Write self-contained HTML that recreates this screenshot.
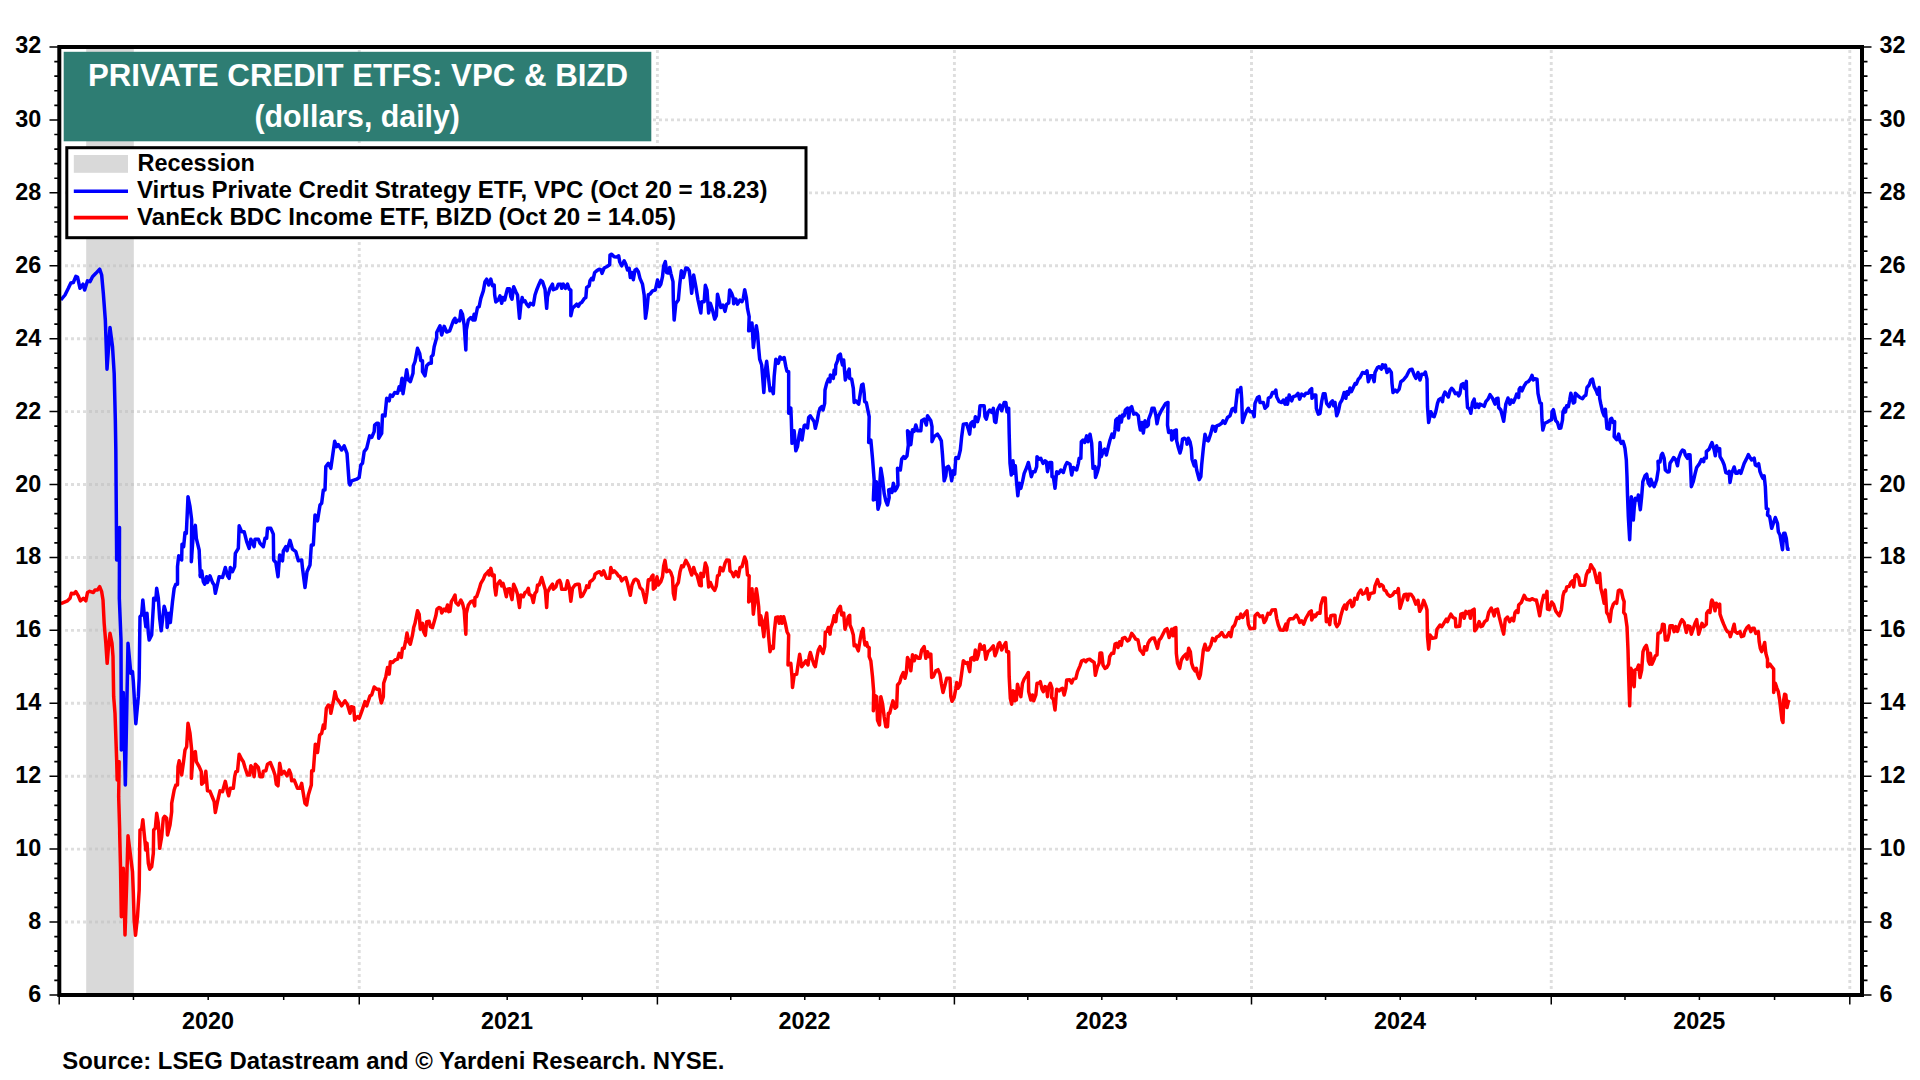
<!DOCTYPE html>
<html lang="en"><head><meta charset="utf-8"><title>Private Credit ETFs: VPC &amp; BIZD</title>
<style>html,body{margin:0;padding:0;background:#fff;}body{width:1920px;height:1080px;overflow:hidden;}svg{display:block;}text{font-family:"Liberation Sans",sans-serif;font-weight:bold;fill:#000;}.g{stroke:#dedede;stroke-width:2.9;stroke-dasharray:3 3;fill:none;}.g2{stroke:#cbcbcb;stroke-width:3;stroke-dasharray:3 3;fill:none;}.k{stroke:#000;fill:none;}</style></head><body>
<svg width="1920" height="1080" viewBox="0 0 1920 1080">
<rect x="0" y="0" width="1920" height="1080" fill="#fff"/>
<rect x="86.2" y="47" width="47.6" height="948" fill="#d9d9d9"/>
<line class="g" x1="65" x2="1859" y1="922.04" y2="922.04"/>
<line class="g" x1="65" x2="1859" y1="849.12" y2="849.12"/>
<line class="g" x1="65" x2="1859" y1="776.2" y2="776.2"/>
<line class="g" x1="65" x2="1859" y1="703.28" y2="703.28"/>
<line class="g" x1="65" x2="1859" y1="630.36" y2="630.36"/>
<line class="g" x1="65" x2="1859" y1="557.44" y2="557.44"/>
<line class="g" x1="65" x2="1859" y1="484.52" y2="484.52"/>
<line class="g" x1="65" x2="1859" y1="411.6" y2="411.6"/>
<line class="g" x1="65" x2="1859" y1="338.68" y2="338.68"/>
<line class="g" x1="65" x2="1859" y1="265.76" y2="265.76"/>
<line class="g" x1="65" x2="1859" y1="192.84" y2="192.84"/>
<line class="g" x1="65" x2="1859" y1="119.92" y2="119.92"/>
<line class="g" x1="359.25" x2="359.25" y1="50" y2="992"/>
<line class="g" x1="657.4" x2="657.4" y1="50" y2="992"/>
<line class="g" x1="954.4" x2="954.4" y1="50" y2="992"/>
<line class="g" x1="1251.5" x2="1251.5" y1="50" y2="992"/>
<line class="g" x1="1551.25" x2="1551.25" y1="50" y2="992"/>
<line class="g" x1="1849.8" x2="1849.8" y1="50" y2="992"/>
<line class="g2" x1="89" x2="133.8" y1="922.04" y2="922.04"/>
<line class="g2" x1="89" x2="133.8" y1="849.12" y2="849.12"/>
<line class="g2" x1="89" x2="133.8" y1="776.2" y2="776.2"/>
<line class="g2" x1="89" x2="133.8" y1="703.28" y2="703.28"/>
<line class="g2" x1="89" x2="133.8" y1="630.36" y2="630.36"/>
<line class="g2" x1="89" x2="133.8" y1="557.44" y2="557.44"/>
<line class="g2" x1="89" x2="133.8" y1="484.52" y2="484.52"/>
<line class="g2" x1="89" x2="133.8" y1="411.6" y2="411.6"/>
<line class="g2" x1="89" x2="133.8" y1="338.68" y2="338.68"/>
<line class="g2" x1="89" x2="133.8" y1="265.76" y2="265.76"/>
<line class="g2" x1="89" x2="133.8" y1="192.84" y2="192.84"/>
<line class="g2" x1="89" x2="133.8" y1="119.92" y2="119.92"/>
<polyline points="60.83,603.67 67.5,600.83 70,598.33 71.33,593.33 74.17,593.67 75.83,591.67 78.33,595.83 80.33,600.83 83.33,598.33 85.83,600.83 87.5,592.5 89.67,591.33 93.33,592.5 95,590 97.5,590 99.67,586.67 101.67,591.67 103,600 104.17,623.33 105.83,643.33 107.17,663.33 108.33,648.33 110,633.33 112,643.33 113,656.67 113.67,696.67 115,713.33 116.67,760 117.17,780 119.17,761.67 118.67,796.67 119.67,830 119.67,833.33 120.5,866.67 121.33,916.67 123.33,868.33 125,935 126.67,883.33 128,835.83 130.83,858.33 132.5,871.67 133.33,893.33 134.17,920 135.5,935.33 137.5,916.67 139.17,890 139.67,850 140,830 141.67,829.17 142.83,819.67 144.17,833.33 145.83,850 147,843.33 148.33,863.33 149.67,869.17 151.67,866.67 153.33,853.33 153.67,830 155.33,828.33 156.67,813.33 158.33,823.33 159.67,848.33 161.67,836.67 163.33,818.33 164.67,816.33 166.67,818.33 167.5,835 170,825 171.67,811.67 171.67,803.33 174.17,790 175.83,785 177.5,785 178,766.67 179.17,760.83 180.33,766.67 181.67,775 183.33,763.33 185,750 186.67,746.67 188,723.33 190,733.33 191.67,750 191.33,778.33 193.33,753.33 195.33,751.67 196.33,761.67 199.17,766.67 201.33,771.67 201.67,784.17 204.17,781.67 205.83,771.33 207.5,790.83 210,791.33 212.5,797.5 214.17,801.67 215.33,812.5 217.5,801.67 220,790.83 222.5,791.67 225.33,781.33 227.5,791.67 228.67,795.83 230.33,788.33 233.33,788.33 234.67,776.67 235.83,771.67 237.5,771.33 239.17,754.17 241.67,759.17 243.33,761.67 245,767.5 247.5,775 249.67,775 250.83,765.83 252.5,768.33 254.17,776.67 255.33,764.17 258.33,767.5 260,776.67 262.5,776.67 263.33,771.33 265.83,770.83 267.5,764.17 270.33,762.5 273.33,770 275,775 276.33,784.17 278,785.83 279.67,763.33 281.67,774.17 284.17,771.33 287,775.83 289.17,770 290.83,774.17 291.67,780.83 294.17,780 295.83,784.17 297.5,788.33 300,788.33 301.67,783.33 303,791.67 305,803.33 306.67,805 308.33,795 311.33,785 311.67,770.83 313.33,770.83 315.33,744.17 317.5,752.5 319.67,735 321.67,733.33 323.33,725 324.67,728.33 326.33,708.33 328.33,705 330,705.83 330.83,713.33 333.33,701.67 335,691.67 336.67,698.33 339.17,701.67 341.67,705.83 345,700.83 347.5,704.67 350,713.33 351.33,706.67 353.67,707.5 354.67,720 357.5,716.67 359.17,718.33 361.67,711.67 365,701.67 366.67,705.83 370,695.83 371.67,695 374.17,687 376.67,689.17 379.17,689.17 380,696.67 381.33,703 383.33,696.67 383.67,683.33 385.83,676.67 387.5,667.5 389.17,674.17 390.33,661.67 392.5,662.5 395,660 397.5,659.17 399.17,653.33 401.33,657.5 402.5,648.33 404.17,648.33 405.83,640 407,633 408.67,641.67 410.33,644.17 412.5,635 413.67,627.5 415,623.33 417.5,610.83 419.17,614.17 420.33,629.17 422.5,623.33 423.67,631.67 425.33,635.33 426.67,621.67 429.17,621.33 430.33,626.67 432.5,627.5 434.17,621.67 435.83,615.83 437,609.17 439.17,607.5 440.83,608.33 441.67,613 444.17,609.17 445.83,610.83 447.5,605 448.67,611.67 450,611.33 451.33,601.67 453.33,598.33 455,595 455.83,602.5 458.33,605 460.83,600 462.5,603.33 464.17,610 465.83,634.17 466.33,613.33 468.33,605 470.83,601.67 473,600.83 474.67,605.83 475,597.5 476.67,596.67 479.17,589.17 480.83,583.33 483.33,579.17 485,575 486.67,573.33 488.67,570.83 489.17,575 490.83,568.33 492.5,575.83 494.17,575 494.67,586.67 495.83,595 497,585 500,580.83 501.67,585.83 503,583.33 504.67,589.17 506.33,596.67 507.5,589.17 509.67,588.67 510.83,595 512,599.67 513.67,584.17 515.83,589.17 517.5,594.17 519.5,607.5 520.83,595 523.33,596.67 525,592.5 526.67,591.67 528.33,588.33 529.17,594.17 531.67,595.83 533.33,602.5 535,593.33 536.67,591.33 537.5,585 539.17,585 541.67,577.5 543.33,583.33 545.33,590 546.67,607.5 547.5,592.5 550,587.5 552.5,584.17 553.33,589.17 555.83,587 557.5,581.67 559.67,580.33 560.83,583.33 561.67,589.17 565.83,589.17 567.5,580.83 569.17,586.67 570.83,601.33 572.5,588.33 575,585 577.5,584.17 579.17,584.17 580.83,596.67 582.5,595.83 585.83,589.17 586.67,585.83 588.67,587.5 590,581.67 592.5,580 594.17,578 595,574.17 597.5,572.5 599.67,571.67 601.67,575 603.67,570.83 605.83,576.67 606.67,578.33 609.67,578.33 610.83,567.5 612.5,572.5 614.17,570.83 616.67,573.33 618.33,575.83 620,576.67 621.67,580.83 624.17,578.33 625.83,577.5 627.5,583.33 630.33,595.33 632,585 634.17,580 635.83,579.17 638,580.83 640,587.5 642.5,590 645.5,602.5 647,592.5 648.33,579.67 650,580 651.67,576.67 653,575 653.33,589.17 655.33,587.5 657,576.67 658.33,585 660.83,581.67 662.5,576.67 663.67,565.83 665,560.33 666.67,571.67 669.17,570.33 670.83,572.5 672.5,577.5 673.33,593.33 674.67,599.17 675.83,586.67 678.33,582.5 680,571.67 681.67,565.83 683.33,566.67 685.83,560.33 687.5,563.33 689.17,566.67 690,570 691.67,575 693.67,567.5 695.33,573.33 697,575 699.67,585.33 701.33,585.83 700.83,573.33 703.33,576.67 705.33,563 707,567.5 708.67,587 710.33,582.5 712.5,587.5 714.67,590.33 716.33,585.83 717.5,575.83 719.17,575 720.33,567.5 723,570.83 725,563.33 726.67,560 729.17,560.33 730,570.83 732,572.5 733.67,576.67 735.83,571.67 738.33,576.67 740,567.5 742,566.67 744.67,557 746.33,561.67 747.5,575 749.17,575.83 748.67,602 750.83,600 752,588.67 753.33,614.17 754.67,603.33 756.33,588.67 757.5,596.67 758.67,606.67 759.67,624.67 760.83,615.83 762,621.67 763.83,636.67 765,621.67 766.67,613 768.33,633.33 770,651.67 771.67,646.67 773.33,648.33 774.17,633.33 775.83,617.5 778,617 779.17,623.33 780.83,616.67 782,623.33 783.67,616.67 785.33,623.33 787,631.67 788.67,635 788,665 790.83,663.33 792,676.67 792.5,687.5 794.17,675 796.67,674.17 798,665 799.67,654.17 801.67,666.67 804.17,663.33 805.83,660.83 808,665 809.17,656.67 810.33,652.5 812.5,660 814.17,665 815.33,666.67 817,656.67 818.33,650 820,646.67 821.67,650.83 823,653.33 824.67,646.67 825.33,632 827,631.33 828.33,627.5 830,634.17 830.83,627.5 832.5,623.33 834.17,615.83 835.83,621.67 836.67,614.17 838.33,609.17 840.33,606.33 841.67,615 843.67,613 845,629.17 846.67,623.33 848.33,616.67 849.67,615.33 850,625 851.67,629.17 853.33,635 854.17,645.83 855.83,645 858.33,650.83 860.33,638.33 861.67,631.67 863,628.67 864.17,640 865,645 866.67,642.5 867.5,646.67 869.17,647.5 869.17,656.67 870.83,660.83 872.5,676.67 873.67,691.67 873.33,710.83 875.33,695.83 876.67,696.67 877.5,720 879.5,725 880.83,696.67 882.5,703.33 884.17,716.67 885.83,726.67 887.5,726.67 888.33,713.33 889.67,713.33 891.33,706.67 893,700.83 895,708.33 896.67,706.67 897.5,685 899.67,682.5 901.33,676.67 903.33,672.5 905,678.33 906.33,672.5 907.5,657.5 908.67,660 910.83,670.83 912.5,654.67 914.17,660.83 915.83,655.83 918.33,658.33 920,658.33 921.67,650 924.17,646.67 925.83,658.33 927.5,651.67 929.17,656.67 930.83,654.17 931.67,677.5 933.33,676.67 935.83,670.83 938,669.67 940,674.17 941.33,683.33 943,692.5 945,685 946.67,678.33 950,678.33 950.83,696.67 952,701.33 954.17,697.5 955.83,688.33 956.67,682.5 958,688.33 960,685 961.67,673.33 963.33,660.83 965.83,663.33 967.5,662.5 969.67,671.67 970.83,658.33 972.5,657.5 974.17,660 975.33,650 977,659.17 978.33,655 980,644.17 982,649.17 984.17,645.83 985.83,659.17 988,651.67 990,650 993.33,645.83 995,655.83 996.67,651.67 998.33,644.17 999.67,642.5 1001.67,650 1003.67,645.83 1005.83,642.5 1006.67,651.67 1008.67,651.67 1009.17,676.67 1010.33,698.33 1011.67,704.17 1013,690.83 1014.67,700.83 1015,691.67 1016.33,700 1017.5,684.17 1019.17,691.67 1020.83,696.67 1022.5,683.33 1024.17,679.17 1026.33,675.83 1028.33,672.5 1028.67,691.67 1030.83,700 1032.5,695 1033.67,700.83 1035.83,695 1037,683.33 1039.17,683.33 1040.33,681.67 1042,689.17 1043.33,691.67 1045,686.67 1046.67,687.5 1047.5,696.67 1048.67,686.67 1050.33,683.33 1052,688.33 1051.67,697.5 1053.33,699.17 1055,710 1056.67,689.17 1059.17,690.83 1060.83,689.17 1062.5,688.33 1064.17,695 1065.83,688.33 1066.67,680 1069.67,679.67 1071.67,683 1073.33,679.17 1075.83,678.33 1077.5,671.67 1080,665.83 1081.67,660.83 1084.17,660 1085.83,661.67 1087.5,659.67 1089.67,659.17 1091.67,660.83 1094.17,662.5 1095.33,675.33 1097.5,666.67 1099.17,663.33 1100,653 1101.67,653 1103,665 1105,668.33 1106.67,667.5 1108.67,664.17 1109.67,656.67 1111.67,653.33 1113.67,653.33 1115,644.17 1116.67,643.33 1118,647.5 1119.67,641.67 1121.33,645.33 1122.5,638.33 1125,637.5 1127.5,640.83 1129.17,640 1131.67,633.33 1134.17,636.67 1135.83,639.17 1138,640 1140,650 1141.67,651.67 1143.33,654.17 1144.67,646.67 1146.67,650 1148,643.33 1150,640 1152,638.33 1154.17,638 1155.83,643.33 1157.5,648.33 1159.17,640 1160.83,638.33 1162.5,635 1165,630 1167,628.67 1169.17,637.5 1171.67,629.17 1173,635.83 1174.17,628.33 1175.83,627.5 1176.33,653.33 1177.5,663.33 1179.67,668.33 1181.33,660 1183.33,656.67 1185.83,654.17 1187,659.17 1188.67,648.33 1190.33,651.67 1191.67,663.33 1193.33,668.33 1195,670.83 1196.33,668.33 1197.5,674.17 1199.17,678.33 1200.33,675 1202,661.67 1203.33,650 1205,644.17 1206.67,650 1208.33,650 1210.83,645 1212.5,638.33 1215,640.83 1216.67,637 1219.17,635.83 1221.67,632.5 1224.17,636.67 1226.67,636.67 1229.17,632.5 1230.83,636.67 1232.5,627.5 1234.67,625 1237,617.5 1239.17,618.33 1240.83,614.17 1242.5,617.5 1245,613.33 1247,610.83 1248.33,624.17 1250,628.67 1254.67,628.33 1255,615.83 1257.5,613.33 1260,616.67 1262.5,615.83 1264.17,622.5 1265.83,620 1268,613.33 1270,614.17 1272,610 1275.33,609.67 1276.67,618.33 1278.33,625 1280.33,630 1283.33,630.33 1285.83,624.17 1286.67,630 1288.33,620.83 1290,618.67 1293.33,618.67 1296.33,615 1298.33,618.33 1299.67,622.5 1301.67,620.83 1303.67,624.17 1305.83,618.33 1308.33,614.17 1309.17,612.5 1311.33,610.83 1311.67,620 1314.17,615 1315.33,616.67 1317.5,613 1320,613.33 1320.83,605 1323,598 1325.33,598 1326.33,621.67 1328.33,619.17 1329.67,624.67 1330.83,615.83 1333,615.33 1335,615.33 1335.33,623.33 1337,626.67 1339.17,623.33 1340.83,615.83 1343,608.33 1344.67,605 1346.33,609.17 1347.5,603.33 1350.33,600.33 1352,606.67 1353.67,605 1354.67,598.33 1357,599.17 1358.33,593.67 1360.83,590 1362.5,594.17 1365,593 1367,588.67 1368.67,599.17 1370.33,593.67 1374.17,592.5 1375,585.83 1377.5,579.67 1379.67,586.33 1381.33,584.67 1383,585.83 1384.17,590 1385.83,590.83 1387.5,594.17 1390,596.33 1392.5,595 1394.67,591.67 1396.67,592.5 1398.33,588.67 1400,608.33 1402,601.67 1404.17,594.67 1406.33,594.17 1407.5,600 1408.67,594.17 1410.83,594.17 1413.33,597.5 1415.83,604.17 1418,600.33 1419.67,611.33 1421.67,607.5 1423.67,600.33 1425.83,605.83 1427,610 1427.5,636.67 1428.67,649.17 1430,635 1432.5,638.33 1435.83,637.5 1437,629.17 1440,625 1441.67,626.67 1443.33,624.17 1446.33,619.17 1447.5,621.67 1449.17,617.5 1450.83,614.17 1453,617.5 1455.33,618.67 1455.83,626.67 1459.67,626.33 1460.83,614.17 1463,613.33 1464.17,618.33 1465.83,611.33 1467.5,613.33 1469.17,611.33 1470.33,618.33 1471.67,610.83 1474.17,609.17 1474.67,630.83 1476.67,628.33 1479.17,621.67 1480.83,626.67 1482.5,625.83 1484.67,621.67 1487,620 1488.67,612.5 1491.33,608 1493,612.5 1494.17,615.83 1495.33,610 1497.5,609.17 1499.17,616.67 1501.67,626.67 1503.67,634.17 1505.33,619.17 1507.5,617 1509.67,621.67 1511.67,618.33 1513.67,620.83 1515,612.5 1516.33,610.83 1518,612.5 1518.67,605 1521.33,602.5 1524.17,595.33 1526.33,599.17 1530,600 1532,598.67 1534.67,600 1536.33,600 1537.5,605 1539.67,615.83 1541.67,603.33 1543.67,595.33 1545.33,597.5 1547,591.33 1547.5,609.17 1549.17,609.67 1551.67,602 1553.67,604.67 1555.83,611.33 1559.17,615.83 1561.33,610 1563,595.83 1564.17,591.67 1565.83,590.83 1566.67,587 1569.17,586.33 1570.83,582.5 1572.5,580.83 1573.67,587 1575,575.83 1576.67,574.67 1578.67,577.5 1580,585.33 1584.67,585.33 1586.33,575 1588,570.83 1589.17,571.67 1590.83,564.67 1592.5,567.5 1594.17,570 1597,582.5 1598,582.5 1599.67,573.33 1600.83,588.33 1602.5,595 1604.17,603.33 1605.33,590 1606.67,612.5 1608.33,615 1610,621.67 1611.33,610 1613.33,604.17 1615.33,602 1616.67,603.33 1618.33,590.83 1619.67,590 1621.33,590.83 1623,598.33 1624.17,601.67 1623.67,612.5 1625.33,614.67 1627,626.67 1628,650 1628.67,675 1629.67,705.83 1630.83,668.33 1631.67,670 1633,683.33 1634.17,686.67 1635,670 1637,669.17 1638.67,665 1640,677.5 1641.67,670 1643,651.67 1644.67,647.5 1646.33,645.33 1647.5,650 1648.33,660.83 1649.67,664.17 1650.33,653.33 1652,664.17 1654.17,659.17 1655.33,655.83 1657,655 1658,633.33 1660.33,632.5 1662,628.67 1662.5,624.17 1664.17,624.67 1665.33,640 1667.5,640 1669.17,633.33 1670,625.83 1672.5,625.83 1674.17,631.67 1675.83,626.67 1677.5,631.33 1679.17,625.83 1680.83,621.67 1682,619.67 1684.17,622.5 1686.33,632.5 1688,625.83 1690,626.67 1691.33,634.17 1693.33,628.33 1695,623.33 1696.67,619.67 1698.67,634.17 1700,630 1702,623.33 1703.67,626.67 1706.33,624.17 1706.67,613.33 1708.33,610.83 1710,612.5 1711.33,601.67 1712,600 1713.67,603.67 1715,610.83 1716.33,603.33 1718,606.67 1719.67,604.17 1720,614.17 1722,620 1723.67,624.17 1725.83,629.17 1727.5,631.67 1729.17,632.5 1730.33,636.67 1732.5,630 1734.17,624.17 1735.33,631.67 1737.5,633.33 1740,631.67 1741.33,636.67 1743.67,635.83 1744.67,631.67 1746.67,628 1748.67,625.83 1750.83,631.67 1752.5,628.33 1754.17,628.33 1755.83,633.33 1758.33,631.67 1759.17,641.67 1760.33,648.33 1761.67,651.67 1763,648.33 1764.67,642.5 1765.83,653.33 1767.5,659.17 1767.5,666.67 1770,664.17 1771.67,666.67 1773.67,669.17 1773.67,692.5 1775.33,683.33 1777,688.33 1778.33,691.67 1779.67,700 1780.83,710 1782,720 1783,722.5 1783.67,700 1784.67,694.17 1785.83,695 1787,707.5 1788.33,701.67 1789.17,700" fill="none" stroke="#ff0000" stroke-width="3.5" stroke-linejoin="round" stroke-linecap="butt"/>
<polyline points="60.83,300 65,295 68.33,288.33 70.83,283 73.33,282.5 75.83,276.33 77.5,277 80,288.33 83,284.17 84.67,290 87.5,280.83 90,281.67 92.5,276.67 95.83,273.33 99.67,269.17 101.67,275 103.33,293.33 105.33,320 107,369.17 110,327.5 112.5,346.67 114.17,373.33 115.33,420 115.83,450 116.67,560 119.5,527.5 119.33,598.33 121,640 121.33,750 123.33,692.5 125.33,785 128,643.33 130.83,673.33 132.5,671.67 133.33,681.67 135.83,723.67 138.33,696.67 139.17,678.33 139.67,640 140,616.67 141.67,615 142.83,600 144.17,613.33 145.83,626.67 147,613.33 148.33,633.33 149.17,640 151.67,635 153.33,606.67 153.67,598.33 155.83,600 156.67,588.33 158.33,598.33 159.67,618.33 161.17,630.83 164.17,606.33 166.67,615 167.17,627.5 169.17,613.33 170.33,622.5 172.5,601.67 174.17,588.33 175.83,584.17 177.5,584.17 177.5,566.67 178.67,555.83 181.67,560 182,544.17 183.67,546.67 185,532.5 186.33,533.33 188,496.67 190,506.67 191.67,520 191.33,561.67 193.33,533.33 195.33,525.33 196.33,538.33 199.17,550 200.33,576.67 200,575 201.67,570.83 203.33,581.67 204.67,584.17 206.67,576.67 207.5,582.5 210,575.83 212.5,582.5 214.17,585 215.33,593.33 217.5,584.17 219.17,576.67 222.5,577.5 225.33,567.5 227.5,575.83 229.17,578.33 230.33,567.5 232.5,571.67 234.67,566.67 235.33,553.33 238.33,548.33 239.17,525.83 241.67,531.67 244.17,531.67 246.67,541.67 249.17,548.33 250.83,539.17 254.17,546.67 255,539.17 258.33,539.17 260,543.33 263.33,546.67 265,538.33 266.67,538.33 267.5,528.33 270.83,528.33 273.33,534.17 273.67,560 275.83,562.5 278,576.67 279.67,555 282.5,560.83 283.33,550.83 285.83,546.67 287,550.83 290,540.33 292.5,549.17 295.83,551.67 298.33,560.83 301.67,560 302.5,568.33 305,587.5 307,571.67 310,565 311.33,545 313.33,545 315,515 317.5,520.83 320,505 321.67,503.33 323.33,490 325,490 325.83,466.67 328.33,463.33 330.83,468.33 334.67,441.33 336.67,446.67 338.33,444.67 341.67,450 344.17,445.83 347,453.33 349.17,483.33 350,485 351.67,480.83 356.67,479.17 359.17,477.5 360.83,465 362.5,463.33 364.17,451.67 366.67,448.33 369.67,435.83 371.67,437.5 374.17,431.67 374.67,425 376.67,423.33 378.33,423.33 378.67,438.33 381.67,433.33 382.5,415 385,415.83 386.67,398.33 389.17,400.83 390.33,395 392.5,396.33 394.67,392.5 397.5,393.33 399.17,386.67 400.33,390 402,378.33 403,393.67 404.67,383.33 406.67,369.67 408.33,380 410.33,381.67 413,373.33 413.33,365.83 415,361.67 417.5,348.33 419.67,353.33 420.83,360.83 422.5,360.83 422.5,371.67 425,375.83 426.67,365.83 429.17,363.33 431.33,363.33 431.33,356.67 433,355 434.17,346.67 436.67,337.5 436.67,332.5 440,325.83 441.67,335 444.17,326.33 446.67,332 449.67,330.83 453.33,320.83 455,318.33 455.83,322.5 458.33,320 459.67,320.83 460.83,310.83 462.5,314.17 464.17,325 465.83,350 466.33,330 468.33,320 470.83,317.5 473,320 474.17,314.17 475,320 477.5,307.5 479.17,306.67 480.83,298.33 483.33,290.83 485,281.67 486.67,279.17 488.67,285 490.83,279.17 492.5,285.83 494.17,285 494.67,295 495.83,302 498.33,300 500,295.83 501.67,303.33 503,297.5 504.67,300 506.67,291.67 507.5,288.67 509.67,288.67 510.83,296.67 512,299.17 513.67,286.67 515.83,291.67 517.5,295 519.5,318.33 520.83,305 522.17,297.5 523.33,301.67 525,300.83 526.67,304.17 528.67,306.67 530.33,303.33 533.33,305 535,295 536.67,290 538.33,285.83 540.83,280.33 542.5,281.67 545,289.17 546.67,308.33 547.5,296.67 550,288.33 552.5,284.17 553.33,289.67 556.67,288.33 558.33,284.17 560.83,284.17 561.67,288.33 563.33,284.17 565.33,288.33 567.5,284.17 569.17,289.17 570.83,290 570.83,315.83 572.5,308.33 576.67,304.17 578.33,306.33 580,303.33 581.67,302.5 584.17,298.67 585.83,297.5 586.67,287.5 589.17,285.83 590,280.83 591.67,278.33 593,280 594.67,272.5 596.67,270.83 599.17,269.17 600.83,269.67 602,273.33 604.17,268 606.67,266.67 609.67,264.67 610,255 611.67,254.17 614.17,256.67 616.67,257 618.67,255.83 619.67,261.67 621.67,265.83 624.17,260.83 625.83,264.17 627.5,270 629.17,268.33 630.33,277.5 632,272.5 633.33,279.67 635,270 636.67,269.17 638.33,271.67 640,278.33 642.5,284.17 644.17,295 645.5,318.33 647,308.33 648.33,294.67 650,294.17 652.5,290.83 655.33,290 657.5,280 659.17,286.67 660.83,284.17 662.5,276.67 663.67,265.83 665.33,261.67 666.67,272.5 668.33,273 669.67,267.5 670.83,273.33 673,281.67 673.33,300 674.17,320 675.83,303.33 678.33,300 679.67,285 681.33,270.83 683.33,277.5 685.83,268 687.5,268.33 689.17,270.83 690,276.67 691.67,293.33 693.67,275 695.83,286.67 698,300 700.83,313 701.67,301.67 704.17,301.67 705.33,285.33 707,290 708.67,313 710.33,303.33 712.5,310 714.67,319.17 716.33,315.83 717.5,294.17 719.17,300.83 720.83,307.5 723,305 725,311.33 726.67,304.17 728.67,303 729.67,290 731.67,293.33 733.33,298.33 733.67,303.67 735.83,299.17 737.5,304.17 740,300 742,301.67 743.33,298.33 744.67,289.67 746.33,297.5 747.5,308.33 749.17,316.67 748.67,330.83 750.83,330 752,323 753.33,347.5 754.67,336.67 756.33,325.83 757.5,333.33 758.67,348.33 759.67,359.17 761.67,365 762.5,375 763.83,392.5 765,373.33 766.67,361.33 768.33,376.67 770,390.83 771.67,388.33 773.33,393.67 774.17,376.67 775.83,359.17 778.33,363.33 780,357 782,359.17 784.17,357.5 785.83,366.67 787,371.33 788.67,371.67 788.67,413.33 790.83,408 791.33,420 792,443.33 794.17,430.83 795.83,450.83 797.5,446.67 799.17,435 800.33,429.67 802,440 804.17,425.83 805,425 807.5,428 808.67,417.5 810.33,415.83 812.5,419.17 814.17,421.67 815.33,428.33 817,421.67 818.67,412.5 820,408.33 821.67,406.67 823,410 824.67,403.33 825,390 826.67,383.33 828.33,379.17 830,381.67 830.33,375 833.33,378.33 834.17,370 835.33,374.17 835.83,365 837.5,360.83 838.33,355.83 840.33,354.17 841.33,360 842.5,365 843.67,360 845.33,380 847.5,373.33 849.17,369.17 849.67,378.33 851.67,379.17 853.33,388.33 854.17,402.5 855.83,400.83 858.67,404.17 860.33,393.33 861.67,385 863,384.17 864.17,393.33 864.67,401.67 866.33,402.5 868,410.83 869.17,416.67 868.67,442.5 870.83,440 872.5,458.33 874.17,480 873.33,500 875.33,499.17 876.33,481.67 878,509.17 879.67,503.33 880,480 880.83,468.33 882.5,478.33 884.17,493.33 885.83,500.83 887.5,505 889.17,497.5 888.67,490 890.83,489.17 892,492.5 893.33,483.33 895,490.83 896.67,488.33 898,485 897.5,468.33 900.33,470 901.67,459.17 903.67,456.67 905,458.33 907,455.83 908.33,445 907.5,430.83 909.17,432.5 910.83,444.67 912.5,429.67 914.17,431.33 915.83,425 917.5,430.83 920.83,430.83 921.67,420.83 924.17,419.17 926.33,425 927.5,415.83 929.17,418.33 930.83,420.83 932,426.67 932,441.67 934.17,436.67 937.5,434.17 939.17,436.67 941.33,440.83 942.5,455 944.17,480.83 945.83,475.83 946.67,467.5 948.33,466.33 950,470 951.67,480.83 953.33,470.83 954.67,474.17 955.83,457.5 958.33,458.33 960.33,450 961.67,436.67 963.33,424.17 966.67,423.67 968.33,429.17 969.67,434.17 970.83,423.33 972.5,421.67 974.17,426.67 975.33,416.67 977.5,421.67 979.17,415.83 980,405.83 984.17,405.83 985,416.67 986.33,419.17 988,412.5 989.67,410 991.67,412.5 993.33,408.33 994.67,421.67 995.83,422.5 997.5,410 1000,405 1001.67,410.83 1004.17,402.5 1005.83,402.5 1007,411.67 1008.67,408.33 1009.17,433.33 1010,463.33 1011.33,475 1013,460.83 1014.17,473.33 1015.33,465.83 1016.67,483.33 1017.83,495.83 1019.17,483.33 1020.83,488.33 1022.5,481.67 1024.17,473.33 1026.67,467.5 1028.33,462.5 1030,470 1031.33,476.67 1033,471.67 1035,471.67 1036.67,466.67 1037,456.67 1039.17,459.17 1040.83,458.33 1043,463.33 1045,460.83 1046.33,461.67 1047.5,471.67 1049.67,462.5 1051.67,462.5 1052,476.67 1053.33,476.67 1055,488.33 1056.67,471.67 1058.67,473.33 1060.83,470 1063.33,472.5 1065.33,465.83 1067,462.5 1070,464.17 1071.67,475 1073.33,467.5 1076.67,470 1078.33,463.33 1079.17,458.33 1080.83,458.33 1081.33,441.67 1083,440 1084.67,442.5 1086.67,435.83 1088,441.67 1090,434.17 1091.67,443.33 1093,468.33 1095,466.67 1095.5,477.5 1097.5,471.67 1099.17,465 1100,442.5 1101.33,456.67 1103.33,450.83 1104.67,449.17 1106.33,455 1108.33,446.67 1110,440 1112,434.17 1113.67,437.5 1115,430 1115.83,420 1117.5,418.33 1118.33,430 1119.67,416.33 1121.33,422 1122.5,415 1124.17,415.83 1125.33,410 1127.5,408 1128.67,418 1130,408.33 1131.67,406.67 1133.67,414.17 1135.83,413.33 1138.33,415.83 1139.17,423.33 1140.33,430 1142,422.5 1143.33,433 1145,420.83 1146.67,426.67 1148.33,425 1148.67,419.17 1150.83,413.33 1152,408.33 1154.17,408.33 1155.83,415 1157,423.67 1158.67,415.83 1161.67,410 1164.17,405.83 1165.83,403.33 1168,402.5 1167.5,425 1168.67,432.5 1171.33,430.83 1171.67,440 1173.33,438.33 1174.17,430.83 1176.33,430 1176.67,440.83 1178.33,447.5 1180,453 1181.33,448.33 1182.5,439.17 1184.17,438.33 1186.67,440 1187,444.17 1188.33,438.33 1190,441.67 1191.33,448.33 1192,459.17 1194.17,465.83 1195.33,460.83 1196.67,470 1199.17,479.67 1200.83,476.67 1201.67,465 1203.33,448.33 1205,434.17 1206.67,440 1208.33,440.83 1210.83,433.33 1212.5,426.33 1214.17,426.67 1215.33,431.33 1216.67,425.83 1219.17,425 1221.67,423.33 1223,420.83 1225,423.33 1227.5,417.5 1230,415.83 1232,409.17 1233.67,408.33 1235.33,411.67 1235.83,405 1237.5,390 1239.17,391.67 1240.83,387.5 1241.67,398.33 1242.5,422.5 1245,415 1246.67,410.83 1248.33,408.33 1250,411.67 1252.5,411.67 1254.17,416.67 1255,403.33 1257.5,397.5 1259.17,396.67 1260,402.5 1263.33,402.5 1265,408.33 1267.5,405.83 1268.33,398.33 1270.83,396.67 1272.5,392.5 1274.17,393 1275.83,390 1276.67,396.67 1279.17,401.67 1281.67,402.5 1283.33,400 1285,404.17 1286.67,398.33 1287.5,404.17 1289.17,395 1291.67,400.83 1293.33,396.67 1295.83,395.83 1298,393.33 1299.67,399.17 1301.67,394.17 1304.17,395.83 1305.83,393.33 1308.33,393.33 1310,390 1311.67,388.67 1312,398.33 1314.17,395 1315.83,395 1316.33,408.33 1318.33,414.17 1320,413.33 1321.67,401.67 1323.33,393.67 1325,393.67 1326.67,403.33 1329.17,406.67 1330.83,402.5 1332.5,400.83 1333.67,405.83 1335,402.5 1336.67,415.83 1338.33,411.67 1340,403.33 1342,400 1344.17,392.5 1345.83,398.33 1347,391.67 1348.33,394.17 1350,388 1351.33,391.67 1352.5,389.17 1355,383.67 1356.33,384.17 1358.33,379.17 1360,377.5 1362.5,372.5 1365,373.33 1367,370.83 1368.33,381.67 1370.33,375.83 1372.5,375.83 1374.17,381.67 1375,372.5 1377.5,367.5 1379.17,366.67 1381.33,369.17 1382.5,364.67 1384.17,367.5 1385.33,365 1387,372.5 1389.17,369.17 1391.33,372.5 1392,383.33 1393,392.5 1395.33,390 1397,392 1399.17,389.17 1400.83,381.67 1403.33,380 1406.67,375.83 1409.17,370.83 1410,369.67 1412,369.17 1414.17,375 1415.83,378.33 1418,372.5 1420,380 1421.67,374.17 1424.17,374.17 1425.33,372 1427,379.17 1427.5,406.67 1428.67,422.5 1430.83,411.67 1432.5,415.83 1434.17,416.67 1435.83,411.67 1437.5,403.33 1438.67,400 1440.83,398.33 1442.5,401.67 1443.33,395.83 1445,392 1446.67,394.67 1448.33,397 1450,390.83 1451.67,388.33 1453.33,390 1455.33,393.67 1457.5,393 1458.67,395.83 1460,393.33 1461.33,384.67 1463,383.67 1464.67,388.33 1466.33,381.33 1466.67,395 1467.5,407.5 1469.67,409.17 1470.83,413.33 1472.5,402.5 1474.17,399.17 1475.33,407.5 1477.5,404.17 1478.67,407.5 1480,404.17 1482.5,405.33 1484.17,406.33 1485.83,401.67 1488,399.17 1490,394.67 1492.5,398.33 1495,404.17 1496.33,398.67 1498,398.33 1498.67,407.5 1500.83,410 1502.5,416.67 1503.67,421.33 1505.83,404.17 1508,398 1510,404.17 1511.33,400 1513.33,402.5 1515.83,396.67 1516.67,394.17 1518.67,397.5 1519.17,389.17 1520.33,387.5 1522,390.83 1524.17,385.83 1526.33,382.5 1528.33,381.67 1530.33,379.17 1532,375.33 1533.33,380 1535,378.67 1537,379.17 1538,393.33 1540,403 1541.33,403.33 1542,420 1542.83,430 1544.67,423.33 1547.5,422 1549.17,420.83 1551.67,419.67 1552,411.67 1553.33,409.67 1554.67,415.83 1555.83,420.83 1557.5,422.5 1559.17,428.33 1560.83,428 1562.5,420 1563,411.67 1564.67,408.33 1565.33,412 1566.67,405.83 1568.33,406.67 1569.67,400 1570.83,393.33 1572,397.5 1573.33,403 1574.67,402 1575.33,393.33 1577.5,395.33 1580,397.5 1582.5,398.67 1584.17,396.33 1585.83,395.33 1587,387.5 1589.17,385 1590.83,380 1592.5,379.17 1594.17,386.67 1596.33,390.83 1597.5,394.17 1599.17,387.5 1599.67,398.33 1600.83,404.17 1602.5,411.67 1604.17,415.83 1605.33,409.17 1606.33,420.83 1607,428.33 1609.17,429.17 1610.33,419.17 1611.67,418.33 1613,422.5 1614.67,421.67 1614.17,436.67 1616.67,439.67 1618.67,434.17 1620,440.83 1621.33,443.33 1623,441.33 1624.17,445 1625,448.33 1626.33,460 1627,476.67 1627.5,495 1627.5,495 1628.33,516.67 1629.67,539.67 1630.67,516.67 1631.33,496.67 1632.33,503.33 1633.33,520 1634.33,506.67 1635.33,498.33 1637.5,500 1638.33,495 1640.33,509.67 1641.67,496.67 1642.83,481.67 1645,475.83 1646.67,474.17 1648.33,483.33 1650,485.83 1650.83,479.17 1652.5,483.33 1654.17,486.67 1656.67,480 1658.33,469.17 1658,461.33 1660,462 1661.33,455 1662.5,453.33 1664.17,458.33 1665.33,470 1667.5,472 1669.17,471.67 1670,463.33 1671.67,460.83 1673.67,457.5 1675.83,460 1677.5,465.83 1678.67,458.33 1680.83,452.5 1682.5,450 1684.17,450.83 1685.33,455 1687.5,458.33 1688.33,454.67 1690,454.67 1690.83,473.33 1691.33,486.67 1693.33,481.33 1695,474.17 1696.67,467.5 1699.17,464.17 1701.33,459.67 1703.67,461.67 1704.17,458.33 1706.33,458 1706.33,451.67 1709.17,449.17 1710.83,445 1712,442.5 1714.17,450 1715.33,455.83 1716.67,445.83 1718,450.83 1719.67,448.67 1720,456.67 1722.5,460.83 1724.17,465 1725.83,472.5 1728,473.33 1729.17,471.33 1730,482.5 1731.67,473.33 1734.17,467 1735.83,473.33 1737.5,473.33 1739.17,470.83 1740.83,473.33 1742.5,468.33 1744.17,463.33 1746.33,459.17 1748.33,454.67 1750,457.5 1751.67,460 1754.17,458 1755.33,465 1756.67,465.83 1758.67,463.67 1760,471.67 1761.67,475.83 1763,478.33 1764.17,475.83 1765.33,486.67 1766.33,508.33 1768,509.17 1767.5,515 1769.67,516.67 1771.67,528.33 1773.33,523.33 1775.33,517.5 1777.5,523.33 1778.33,531.67 1780,535 1782.5,549.67 1783.67,533.33 1785,533.33 1786.33,538.33 1787.5,549.17 1789.67,549.17" fill="none" stroke="#0000ff" stroke-width="3.5" stroke-linejoin="round" stroke-linecap="butt"/>
<rect x="63.7" y="51.8" width="587.6" height="89.5" fill="#2e7d73"/>
<text x="358" y="85.8" font-size="31" text-anchor="middle" style="fill:#fff" textLength="540" lengthAdjust="spacingAndGlyphs">PRIVATE CREDIT ETFS: VPC &amp; BIZD</text>
<text x="357.2" y="127" font-size="30.5" text-anchor="middle" style="fill:#fff" textLength="205.5" lengthAdjust="spacingAndGlyphs">(dollars, daily)</text>
<rect x="66.8" y="147.7" width="739.2" height="90" fill="#fff" stroke="#000" stroke-width="3"/>
<rect x="73.8" y="155" width="54.2" height="17.8" fill="#d9d9d9"/>
<line x1="73.8" x2="128" y1="191.2" y2="191.2" stroke="#0000ff" stroke-width="3.6"/>
<line x1="73.8" x2="128" y1="217.6" y2="217.6" stroke="#ff0000" stroke-width="3.6"/>
<text x="137.6" y="171" font-size="23.5" textLength="117.2" lengthAdjust="spacingAndGlyphs">Recession</text>
<text x="137" y="197.5" font-size="23.5" textLength="630.5" lengthAdjust="spacingAndGlyphs">Virtus Private Credit Strategy ETF, VPC (Oct 20 = 18.23)</text>
<text x="137" y="225" font-size="23.5" textLength="539" lengthAdjust="spacingAndGlyphs">VanEck BDC Income ETF, BIZD (Oct 20 = 14.05)</text>
<rect class="k" x="59.3" y="47" width="1802.7" height="948" stroke-width="4"/>
<path class="k" stroke-width="1.7" d="M54.3,980.38 H58 M1863,980.38 H1867.5 M54.3,965.79 H58 M1863,965.79 H1867.5 M54.3,951.21 H58 M1863,951.21 H1867.5 M54.3,936.62 H58 M1863,936.62 H1867.5 M54.3,907.46 H58 M1863,907.46 H1867.5 M54.3,892.87 H58 M1863,892.87 H1867.5 M54.3,878.29 H58 M1863,878.29 H1867.5 M54.3,863.7 H58 M1863,863.7 H1867.5 M54.3,834.54 H58 M1863,834.54 H1867.5 M54.3,819.95 H58 M1863,819.95 H1867.5 M54.3,805.37 H58 M1863,805.37 H1867.5 M54.3,790.78 H58 M1863,790.78 H1867.5 M54.3,761.62 H58 M1863,761.62 H1867.5 M54.3,747.03 H58 M1863,747.03 H1867.5 M54.3,732.45 H58 M1863,732.45 H1867.5 M54.3,717.86 H58 M1863,717.86 H1867.5 M54.3,688.7 H58 M1863,688.7 H1867.5 M54.3,674.11 H58 M1863,674.11 H1867.5 M54.3,659.53 H58 M1863,659.53 H1867.5 M54.3,644.94 H58 M1863,644.94 H1867.5 M54.3,615.78 H58 M1863,615.78 H1867.5 M54.3,601.19 H58 M1863,601.19 H1867.5 M54.3,586.61 H58 M1863,586.61 H1867.5 M54.3,572.02 H58 M1863,572.02 H1867.5 M54.3,542.86 H58 M1863,542.86 H1867.5 M54.3,528.27 H58 M1863,528.27 H1867.5 M54.3,513.69 H58 M1863,513.69 H1867.5 M54.3,499.1 H58 M1863,499.1 H1867.5 M54.3,469.94 H58 M1863,469.94 H1867.5 M54.3,455.35 H58 M1863,455.35 H1867.5 M54.3,440.77 H58 M1863,440.77 H1867.5 M54.3,426.18 H58 M1863,426.18 H1867.5 M54.3,397.02 H58 M1863,397.02 H1867.5 M54.3,382.43 H58 M1863,382.43 H1867.5 M54.3,367.85 H58 M1863,367.85 H1867.5 M54.3,353.26 H58 M1863,353.26 H1867.5 M54.3,324.1 H58 M1863,324.1 H1867.5 M54.3,309.51 H58 M1863,309.51 H1867.5 M54.3,294.93 H58 M1863,294.93 H1867.5 M54.3,280.34 H58 M1863,280.34 H1867.5 M54.3,251.18 H58 M1863,251.18 H1867.5 M54.3,236.59 H58 M1863,236.59 H1867.5 M54.3,222.01 H58 M1863,222.01 H1867.5 M54.3,207.42 H58 M1863,207.42 H1867.5 M54.3,178.26 H58 M1863,178.26 H1867.5 M54.3,163.67 H58 M1863,163.67 H1867.5 M54.3,149.09 H58 M1863,149.09 H1867.5 M54.3,134.5 H58 M1863,134.5 H1867.5 M54.3,105.34 H58 M1863,105.34 H1867.5 M54.3,90.75 H58 M1863,90.75 H1867.5 M54.3,76.17 H58 M1863,76.17 H1867.5 M54.3,61.58 H58 M1863,61.58 H1867.5"/>
<path class="k" stroke-width="1.5" d="M49.5,994.96 H58 M1863,994.96 H1871.5 M49.5,922.04 H58 M1863,922.04 H1871.5 M49.5,849.12 H58 M1863,849.12 H1871.5 M49.5,776.2 H58 M1863,776.2 H1871.5 M49.5,703.28 H58 M1863,703.28 H1871.5 M49.5,630.36 H58 M1863,630.36 H1871.5 M49.5,557.44 H58 M1863,557.44 H1871.5 M49.5,484.52 H58 M1863,484.52 H1871.5 M49.5,411.6 H58 M1863,411.6 H1871.5 M49.5,338.68 H58 M1863,338.68 H1871.5 M49.5,265.76 H58 M1863,265.76 H1871.5 M49.5,192.84 H58 M1863,192.84 H1871.5 M49.5,119.92 H58 M1863,119.92 H1871.5 M49.5,47 H58 M1863,47 H1871.5"/>
<path class="k" stroke-width="1.5" d="M59.2,996 V1004.6 M133.46,996 V1000 M208.19,996 V1000 M283.69,996 V1000 M359.25,996 V1004.6 M432.89,996 V1000 M507.19,996 V1000 M582.27,996 V1000 M657.4,996 V1004.6 M730.76,996 V1000 M804.77,996 V1000 M879.56,996 V1000 M954.4,996 V1004.6 M1027.78,996 V1000 M1101.82,996 V1000 M1176.63,996 V1000 M1251.5,996 V1004.6 M1325.54,996 V1000 M1400.24,996 V1000 M1475.71,996 V1000 M1551.25,996 V1004.6 M1624.99,996 V1000 M1699.39,996 V1000 M1774.57,996 V1000 M1849.8,996 V1004.6"/>
<text x="41.3" y="1001.96" font-size="24.7" text-anchor="end" textLength="13.0" lengthAdjust="spacingAndGlyphs">6</text>
<text x="1879.6" y="1001.96" font-size="24.7" textLength="13.0" lengthAdjust="spacingAndGlyphs">6</text>
<text x="41.3" y="929.04" font-size="24.7" text-anchor="end" textLength="13.0" lengthAdjust="spacingAndGlyphs">8</text>
<text x="1879.6" y="929.04" font-size="24.7" textLength="13.0" lengthAdjust="spacingAndGlyphs">8</text>
<text x="41.3" y="856.12" font-size="24.7" text-anchor="end" textLength="26.0" lengthAdjust="spacingAndGlyphs">10</text>
<text x="1879.6" y="856.12" font-size="24.7" textLength="26.0" lengthAdjust="spacingAndGlyphs">10</text>
<text x="41.3" y="783.2" font-size="24.7" text-anchor="end" textLength="26.0" lengthAdjust="spacingAndGlyphs">12</text>
<text x="1879.6" y="783.2" font-size="24.7" textLength="26.0" lengthAdjust="spacingAndGlyphs">12</text>
<text x="41.3" y="710.28" font-size="24.7" text-anchor="end" textLength="26.0" lengthAdjust="spacingAndGlyphs">14</text>
<text x="1879.6" y="710.28" font-size="24.7" textLength="26.0" lengthAdjust="spacingAndGlyphs">14</text>
<text x="41.3" y="637.36" font-size="24.7" text-anchor="end" textLength="26.0" lengthAdjust="spacingAndGlyphs">16</text>
<text x="1879.6" y="637.36" font-size="24.7" textLength="26.0" lengthAdjust="spacingAndGlyphs">16</text>
<text x="41.3" y="564.44" font-size="24.7" text-anchor="end" textLength="26.0" lengthAdjust="spacingAndGlyphs">18</text>
<text x="1879.6" y="564.44" font-size="24.7" textLength="26.0" lengthAdjust="spacingAndGlyphs">18</text>
<text x="41.3" y="491.52" font-size="24.7" text-anchor="end" textLength="26.0" lengthAdjust="spacingAndGlyphs">20</text>
<text x="1879.6" y="491.52" font-size="24.7" textLength="26.0" lengthAdjust="spacingAndGlyphs">20</text>
<text x="41.3" y="418.6" font-size="24.7" text-anchor="end" textLength="26.0" lengthAdjust="spacingAndGlyphs">22</text>
<text x="1879.6" y="418.6" font-size="24.7" textLength="26.0" lengthAdjust="spacingAndGlyphs">22</text>
<text x="41.3" y="345.68" font-size="24.7" text-anchor="end" textLength="26.0" lengthAdjust="spacingAndGlyphs">24</text>
<text x="1879.6" y="345.68" font-size="24.7" textLength="26.0" lengthAdjust="spacingAndGlyphs">24</text>
<text x="41.3" y="272.76" font-size="24.7" text-anchor="end" textLength="26.0" lengthAdjust="spacingAndGlyphs">26</text>
<text x="1879.6" y="272.76" font-size="24.7" textLength="26.0" lengthAdjust="spacingAndGlyphs">26</text>
<text x="41.3" y="199.84" font-size="24.7" text-anchor="end" textLength="26.0" lengthAdjust="spacingAndGlyphs">28</text>
<text x="1879.6" y="199.84" font-size="24.7" textLength="26.0" lengthAdjust="spacingAndGlyphs">28</text>
<text x="41.3" y="126.92" font-size="24.7" text-anchor="end" textLength="26.0" lengthAdjust="spacingAndGlyphs">30</text>
<text x="1879.6" y="126.92" font-size="24.7" textLength="26.0" lengthAdjust="spacingAndGlyphs">30</text>
<text x="41.3" y="53" font-size="24.7" text-anchor="end" textLength="26.0" lengthAdjust="spacingAndGlyphs">32</text>
<text x="1879.6" y="53" font-size="24.7" textLength="26.0" lengthAdjust="spacingAndGlyphs">32</text>
<text x="207.99" y="1029.2" font-size="24.7" text-anchor="middle" textLength="52" lengthAdjust="spacingAndGlyphs">2020</text>
<text x="506.99" y="1029.2" font-size="24.7" text-anchor="middle" textLength="52" lengthAdjust="spacingAndGlyphs">2021</text>
<text x="804.57" y="1029.2" font-size="24.7" text-anchor="middle" textLength="52" lengthAdjust="spacingAndGlyphs">2022</text>
<text x="1101.62" y="1029.2" font-size="24.7" text-anchor="middle" textLength="52" lengthAdjust="spacingAndGlyphs">2023</text>
<text x="1400.04" y="1029.2" font-size="24.7" text-anchor="middle" textLength="52" lengthAdjust="spacingAndGlyphs">2024</text>
<text x="1699.19" y="1029.2" font-size="24.7" text-anchor="middle" textLength="52" lengthAdjust="spacingAndGlyphs">2025</text>
<text x="62.35" y="1068.7" font-size="23" textLength="662" lengthAdjust="spacingAndGlyphs">Source: LSEG Datastream and © Yardeni Research. NYSE.</text>
</svg></body></html>
